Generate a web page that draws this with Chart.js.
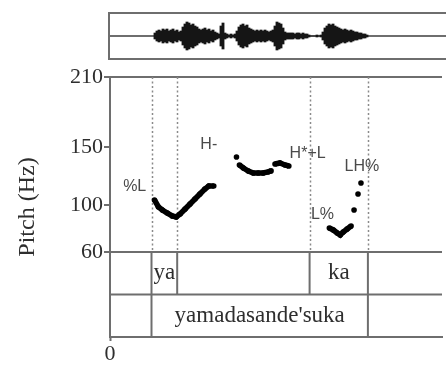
<!DOCTYPE html>
<html>
<head>
<meta charset="utf-8">
<script src="https://cdn.jsdelivr.net/npm/chart.js@4.4.1/dist/chart.umd.min.js"></script>
<style>
  html, body { margin: 0; padding: 0; background: #fff; }
  #wrap { position: relative; width: 446px; height: 369px; overflow: hidden; }
  canvas { position: absolute; left: 0; top: 0; }
</style>
</head>
<body>
<div id="wrap">
  <canvas id="pitch" width="446" height="369"></canvas>
  <canvas id="wave" width="446" height="70"></canvas>
</div>
<script>
// ---------- data ----------
const timeMax = 1.68;                       // seconds shown (axis extent)
const yTickValues = [60, 100, 150, 210];    // Hz
const yTickLabels = ["60", "100", "150", "210"];
const xTickValues = [0];
const xTickLabels = ["0"];
const yAxisTitle = "Pitch (Hz)";

// F0 contour (null = unvoiced gap)
const pitchTimes = [0.225,0.245,0.265,0.29,0.315,0.335,0.355,0.38,0.405,0.43,0.455,0.48,0.5,0.525,
                    0.58, 0.64, 0.645,
                    0.655,0.675,0.70,0.725,0.75,0.775,0.80,0.815, 0.825,
                    0.835,0.86,0.885,0.905, 1.0,
                    1.11,1.13,1.15,1.165,1.18,1.20,1.22, 1.228,
                    1.235, 1.245, 1.255, 1.262, 1.27];
const pitchHz    = [104.6,98.6,96,93.4,90.9,90,92.6,96.9,101.1,105.4,109.7,114,116.6,116.6,
                    null, 141.4, null,
                    134.6,132,129.4,127.7,127.7,127.7,128.6,129.5, null,
                    135.4,136.3,134.6,133.7, null,
                    80.6,78.9,76.3,74.6,77.1,79.7,82.3, null,
                    96, null, 109.7, null, 119.1];

// ToBI tone labels
const toneLabels = ["%L", "H-", "H*+L", "L%", "LH%"];
const toneTimes  = [0.125, 0.50, 1.00, 1.075, 1.275];
const toneHz     = [115.7, 151.7, 144, 91.7, 132.9];

// Tier 1 (syllables) and tier 2 (phrase)
const tier1Labels = ["ya", "ka"];
const tier1Start  = [0.21, 1.01];
const tier1End    = [0.34, 1.305];
const tier2Labels = ["yamadasande'suka"];
const tier2Start  = [0.21];
const tier2End    = [1.305];

// Waveform envelope (half amplitude), sampled every 10 ms from waveStart
const waveStart = 0.225;
const waveStep = 0.01;
const waveAmp = [3,5,6,5,7,6,7,5,6,7,5,6,4,5,9,12,14,13,11,12,10,9,7,6,7,8,6,7,5,6,4,3,2,10,13,3,2,1,2,1,2,5,9,11,12,10,11,8,7,6,5,6,5,6,5,6,5,4,5,6,10,14,13,12,8,4,3,3,3,3,2,3,3,2,3,2,2,1,0,0,0,1,0,1,4,8,10,12,11,12,10,9,8,7,6,7,6,5,6,5,4,4,3,3,2,2,1];

// ---------- styles ----------
const LINE = "#6e6e6e";
const TEXT = "#2e2e2e";
const SERIF = "'Liberation Serif', 'Times New Roman', serif";
const SANS = "'Liberation Sans', Arial, sans-serif";

// ---------- main pitch chart ----------
const pitchData = pitchTimes.map((t, i) => ({ x: t, y: pitchHz[i] }));

const tierPlugin = {
  id: 'tiers',
  beforeDatasetsDraw(chart) {
    const { ctx, chartArea } = chart;
    const xs = chart.scales.x, ys = chart.scales.y;
    const y60 = ys.getPixelForValue(60);
    const yTop = chartArea.top;
    const yBot = chartArea.bottom;
    const yMid = (y60 + yBot) / 2;
    ctx.save();
    // dotted boundaries in pitch panel
    ctx.strokeStyle = "#8a8a8a";
    ctx.lineWidth = 1.5;
    ctx.setLineDash([2, 2.5]);
    const bounds = [];
    tier1Start.forEach((s, i) => { bounds.push(s, tier1End[i]); });
    bounds.forEach(t => {
      const x = Math.round(xs.getPixelForValue(t)) + 0.5;
      ctx.beginPath(); ctx.moveTo(x, yTop); ctx.lineTo(x, y60); ctx.stroke();
    });
    ctx.setLineDash([]);
    // tier separator
    ctx.strokeStyle = LINE;
    ctx.lineWidth = 2;
    ctx.beginPath(); ctx.moveTo(chartArea.left, yMid); ctx.lineTo(chartArea.right, yMid); ctx.stroke();
    // tier 1 boundaries
    bounds.forEach(t => {
      const x = xs.getPixelForValue(t);
      ctx.beginPath(); ctx.moveTo(x, y60); ctx.lineTo(x, yMid); ctx.stroke();
    });
    // tier 2 boundaries
    tier2Start.forEach((s, i) => {
      [s, tier2End[i]].forEach(t => {
        const x = xs.getPixelForValue(t);
        ctx.beginPath(); ctx.moveTo(x, yMid); ctx.lineTo(x, yBot); ctx.stroke();
      });
    });
    // tier texts
    ctx.fillStyle = TEXT;
    ctx.font = "23px " + SERIF;
    ctx.textAlign = "center";
    ctx.textBaseline = "middle";
    tier1Labels.forEach((l, i) => {
      const x = (xs.getPixelForValue(tier1Start[i]) + xs.getPixelForValue(tier1End[i])) / 2;
      ctx.fillText(l, x, (y60 + yMid) / 2);
    });
    tier2Labels.forEach((l, i) => {
      const x = (xs.getPixelForValue(tier2Start[i]) + xs.getPixelForValue(tier2End[i])) / 2;
      ctx.fillText(l, x, (yMid + yBot) / 2);
    });
    // tone labels
    ctx.fillStyle = "#4a4a4a";
    ctx.font = "16px " + SANS;
    toneLabels.forEach((l, i) => {
      ctx.fillText(l, xs.getPixelForValue(toneTimes[i]), ys.getPixelForValue(toneHz[i]));
    });
    ctx.restore();
  }
};

new Chart(document.getElementById('pitch'), {
  type: 'line',
  data: {
    datasets: [{
      data: pitchData,
      borderColor: '#000',
      backgroundColor: '#000',
      borderWidth: 5.5,
      pointRadius: 2.8,
      pointBorderWidth: 0,
      pointBackgroundColor: '#000',
      spanGaps: false,
      tension: 0
    }]
  },
  options: {
    responsive: false,
    animation: false,
    layout: { padding: { top: 77, right: 0, bottom: 0, left: 0 } },
    plugins: { legend: { display: false }, tooltip: { enabled: false } },
    scales: {
      x: {
        type: 'linear', min: 0, max: timeMax,
        afterBuildTicks: s => { s.ticks = xTickValues.map(v => ({ value: v })); },
        afterFit: s => { s.height = 32; },
        ticks: {
          callback: (v) => { const i = xTickValues.indexOf(v); return i >= 0 ? xTickLabels[i] : ''; },
          font: { family: SERIF, size: 22 }, color: TEXT, padding: 0, maxRotation: 0
        },
        grid: { drawOnChartArea: false, tickLength: 4, tickColor: LINE, tickWidth: 2 },
        border: { color: LINE, width: 2 }
      },
      y: {
        type: 'linear', min: -12.86, max: 210,
        afterBuildTicks: s => { s.ticks = yTickValues.map(v => ({ value: v })); },
        afterFit: s => { s.width = 110; },
        ticks: {
          callback: (v) => { const i = yTickValues.indexOf(v); return i >= 0 ? yTickLabels[i] : ''; },
          font: { family: SERIF, size: 22 }, color: TEXT, padding: 1
        },
        grid: {
          color: c => (c.tick && (c.tick.value === 60 || c.tick.value === 210)) ? LINE : 'rgba(0,0,0,0)',
          lineWidth: 2, tickLength: 6, tickColor: LINE, tickWidth: 2
        },
        border: { color: LINE, width: 2 },
        title: {
          display: true, text: yAxisTitle, color: TEXT,
          font: { family: SERIF, size: 24 }, padding: { top: 13, bottom: 0 }
        }
      }
    }
  },
  plugins: [tierPlugin]
});

// ---------- waveform chart ----------
const waveData = waveAmp.map((a, i) => ({ x: waveStart + i * waveStep, y: [-a, a] }));

const boxPlugin = {
  id: 'box',
  beforeDatasetsDraw(chart) {
    const { ctx, chartArea } = chart;
    const y0 = chart.scales.y.getPixelForValue(0);
    ctx.save();
    ctx.strokeStyle = LINE;
    ctx.lineWidth = 2;
    ctx.beginPath();
    ctx.moveTo(chartArea.right + 5, chartArea.top);
    ctx.lineTo(chartArea.left - 1, chartArea.top);
    ctx.lineTo(chartArea.left - 1, chartArea.bottom);
    ctx.lineTo(chartArea.right + 5, chartArea.bottom);
    ctx.moveTo(chartArea.left, y0);
    ctx.lineTo(chartArea.right, y0);
    ctx.stroke();
    ctx.restore();
  }
};

new Chart(document.getElementById('wave'), {
  type: 'bar',
  data: {
    datasets: [{
      data: waveData,
      backgroundColor: '#151515',
      borderWidth: 0,
      barThickness: 2.2,
      grouped: false
    }]
  },
  options: {
    responsive: false,
    animation: false,
    layout: { padding: { top: 13, right: 0, bottom: 11, left: 110 } },
    plugins: { legend: { display: false }, tooltip: { enabled: false } },
    scales: {
      x: { type: 'linear', min: 0, max: timeMax, display: false, offset: false },
      y: { min: -23, max: 23, display: false }
    }
  },
  plugins: [boxPlugin]
});
</script>
</body>
</html>
